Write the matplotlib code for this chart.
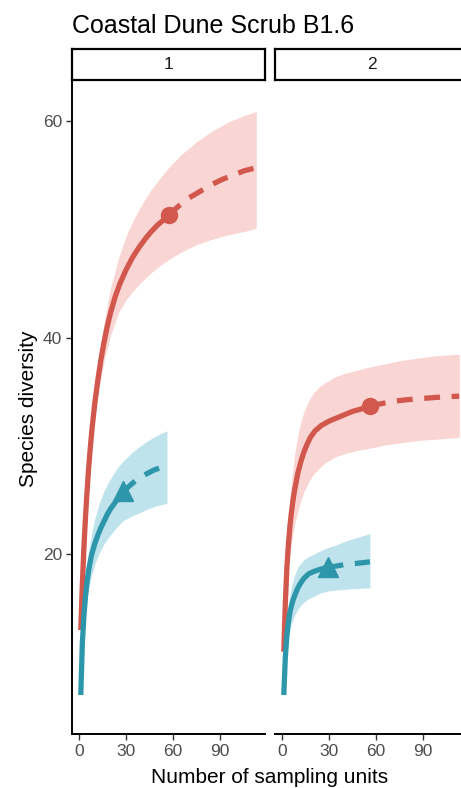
"""Sample-based rarefaction / extrapolation curves, Coastal Dune Scrub B1.6.

Two facets (sites 1 and 2); each shows observed species diversity against
number of sampling units (solid), extrapolation to twice the sample size
(dashed), the reference sample (marker) and a 95% confidence band.
"""
import matplotlib
matplotlib.use('Agg')
import matplotlib.pyplot as plt

# ---- site 1 --------------------------------------------------------------
s1_red_obs_x = [1, 2, 3, 4, 5, 6, 7, 8, 9, 10, 12, 14, 16, 18, 20, 23, 26,
                30, 34, 38, 42, 46, 50, 54, 57]
s1_red_obs_y = [13, 17.2, 20.6, 23.4, 25.8, 27.9, 29.7, 31.3, 32.7, 34, 36.2,
                38.1, 39.7, 41.1, 42.3, 43.8, 45, 46.3, 47.4, 48.3, 49.1,
                49.8, 50.4, 50.9, 51.3]
s1_red_ext_x = [57, 63, 70, 77, 84, 91, 98, 105, 113]
s1_red_ext_y = [51.3, 52.1, 52.9, 53.5, 54.1, 54.6, 55, 55.4, 55.7]
s1_red_ci_x = [1, 2, 4, 6, 8, 10, 13, 16, 20, 25, 30, 35, 40, 46, 52, 57,
               65, 75, 85, 95, 105, 113]
s1_red_hi = [13.3, 17.8, 24.3, 28.7, 32.3, 35.2, 38.7, 41.5, 44.6, 47.3,
             49.4, 51, 52.3, 53.7, 54.8, 55.7, 56.9, 58.1, 59.1, 59.9,
             60.5, 60.9]
s1_red_lo = [12.7, 16.6, 22.5, 27.1, 30.3, 32.8, 35.6, 37.9, 40.2, 42.3,
             43.5, 44.4, 45.2, 46, 46.7, 47.2, 47.9, 48.6, 49.1, 49.5,
             49.8, 50.1]

s1_teal_obs_x = [1, 2, 3, 4, 5, 6, 7, 8, 10, 12, 14, 16, 18, 20, 22, 24,
                 26, 28]
s1_teal_obs_y = [7, 11.8, 14.3, 16.1, 17.5, 18.5, 19.3, 20, 21, 21.8, 22.5,
                 23.1, 23.7, 24.2, 24.6, 25, 25.4, 25.8]
s1_teal_ext_x = [28, 32, 36, 40, 44, 48, 52, 56]
s1_teal_ext_y = [25.8, 26.3, 26.8, 27.2, 27.5, 27.8, 28, 28.2]
s1_teal_ci_x = [1, 2, 3, 4, 6, 8, 10, 13, 16, 20, 24, 28, 33, 38, 44, 50, 56]
s1_teal_hi = [7.3, 12.6, 15.4, 17.4, 20.2, 22, 23.3, 24.8, 25.9, 27, 27.9,
              28.6, 29.3, 29.9, 30.5, 31, 31.4]
s1_teal_lo = [6.7, 11, 13.2, 14.8, 16.8, 18.1, 19.1, 20.2, 21, 21.8, 22.5,
              23.1, 23.5, 23.8, 24.2, 24.5, 24.7]

# ---- site 2 --------------------------------------------------------------
s2_red_obs_x = [1, 2, 3, 4, 5, 6, 7, 8, 10, 12, 14, 16, 18, 21, 25, 30, 35,
                40, 45, 50, 56]
s2_red_obs_y = [11, 15.5, 18.8, 21, 22.7, 24, 25.1, 26, 27.5, 28.6, 29.5,
                30.2, 30.8, 31.4, 31.9, 32.3, 32.6, 32.9, 33.2, 33.4, 33.7]
s2_red_ext_x = [56, 63, 70, 78, 86, 95, 104, 113]
s2_red_ext_y = [33.7, 33.9, 34.1, 34.25, 34.35, 34.45, 34.55, 34.6]
s2_red_ci_x = [1, 2, 3, 4, 5, 6, 8, 10, 12, 14, 17, 20, 24, 28, 34, 40, 48,
               56, 66, 76, 86, 96, 105, 113]
s2_red_hi = [11.3, 16.7, 20.5, 23.2, 25.3, 26.9, 29.3, 31, 32.3, 33.2, 34.2,
             34.9, 35.5, 35.9, 36.4, 36.7, 37, 37.3, 37.6, 37.9, 38.1, 38.3,
             38.4, 38.5]
s2_red_lo = [10.7, 14.3, 17.1, 18.9, 20.2, 21.2, 22.8, 24, 25, 25.8, 26.7,
             27.4, 28, 28.5, 29, 29.3, 29.6, 29.8, 30.1, 30.3, 30.5, 30.6,
             30.7, 30.8]

s2_teal_obs_x = [1, 2, 3, 4, 5, 6, 7, 8, 10, 12, 14, 17, 20, 24, 29]
s2_teal_obs_y = [7, 10.5, 12.5, 13.8, 14.7, 15.3, 15.8, 16.2, 16.9, 17.4,
                 17.8, 18.2, 18.4, 18.6, 18.8]
s2_teal_ext_x = [29, 34, 40, 47, 56]
s2_teal_ext_y = [18.8, 18.9, 19.05, 19.15, 19.3]
s2_teal_ci_x = [1, 2, 3, 4, 5, 6, 8, 10, 12, 14, 17, 20, 24, 29, 35, 42, 49,
                56]
s2_teal_hi = [7.3, 11.5, 13.8, 15.3, 16.4, 17.1, 18.1, 18.8, 19.2, 19.5,
              19.8, 20, 20.3, 20.6, 20.9, 21.3, 21.6, 21.9]
s2_teal_lo = [6.7, 9.6, 11.3, 12.4, 13.1, 13.6, 14.4, 14.9, 15.3, 15.6, 15.9,
              16.1, 16.4, 16.6, 16.7, 16.8, 16.85, 16.9]

panel_labels = ['1', '2']
x_ticks = [0, 30, 60, 90]
y_ticks = [20, 40, 60]

RED, RED_FILL = '#D2574C', '#F9D6D3'
TEAL, TEAL_FILL = '#2E96AA', '#BEE3EC'

plt.rcParams.update({'font.family': ['Liberation Sans', 'DejaVu Sans']})

W, H = 461, 788
fig = plt.figure(figsize=(W / 100, H / 100), dpi=100)


def fx(px):
    return px / W


def fy(py):
    return 1 - py / H


panel_w = fx(193)
panel_lefts = [fx(72), fx(275)]
panel_bottom, panel_top = fy(734), fy(80)
strip_top = fy(49)


def draw_series(ax, obs_x, obs_y, ext_x, ext_y, ci_x, hi, lo, color, fill,
                marker, ms):
    ax.fill_between(ci_x, lo, hi, color=fill, lw=0, zorder=1)
    ax.plot(obs_x, obs_y, color=color, lw=3.8, solid_capstyle='butt',
            solid_joinstyle='round', zorder=3)
    ax.plot(ext_x, ext_y, color=color, lw=3.8, dashes=(3, 2.2),
            dash_capstyle='butt', zorder=3)
    ax.plot(obs_x[-1], obs_y[-1], marker=marker, ms=ms, color=color,
            mec=color, zorder=4)


sites = [
    [(s1_red_obs_x, s1_red_obs_y, s1_red_ext_x, s1_red_ext_y, s1_red_ci_x,
      s1_red_hi, s1_red_lo, RED, RED_FILL, 'o', 11.5),
     (s1_teal_obs_x, s1_teal_obs_y, s1_teal_ext_x, s1_teal_ext_y,
      s1_teal_ci_x, s1_teal_hi, s1_teal_lo, TEAL, TEAL_FILL, '^', 14)],
    [(s2_red_obs_x, s2_red_obs_y, s2_red_ext_x, s2_red_ext_y, s2_red_ci_x,
      s2_red_hi, s2_red_lo, RED, RED_FILL, 'o', 11.5),
     (s2_teal_obs_x, s2_teal_obs_y, s2_teal_ext_x, s2_teal_ext_y,
      s2_teal_ci_x, s2_teal_hi, s2_teal_lo, TEAL, TEAL_FILL, '^', 14)],
]

for i, left in enumerate(panel_lefts):
    ax = fig.add_axes([left, panel_bottom, panel_w, panel_top - panel_bottom])
    for s in sites[i]:
        draw_series(ax, *s)
    ax.set_xlim(-4.6, 118.6)
    ax.set_ylim(3.4, 63.8)
    ax.set_xticks(x_ticks)
    ax.set_yticks(y_ticks)
    for side in ('top', 'right'):
        ax.spines[side].set_visible(False)
    ax.spines['bottom'].set_linewidth(1.4)
    ax.spines['left'].set_linewidth(1.4)
    ax.tick_params(length=4, width=1.0, color='#333333', labelcolor='#4D4D4D',
                   labelsize=12.5, pad=3)
    if i > 0:
        ax.spines['left'].set_visible(False)
        ax.tick_params(axis='y', left=False, labelleft=False)

    # facet strip
    sax = fig.add_axes([left, panel_top, panel_w, strip_top - panel_top])
    sax.set_xticks([])
    sax.set_yticks([])
    for sp in sax.spines.values():
        sp.set_linewidth(1.6)
        sp.set_color('black')
    sax.text(0.5, 0.5, panel_labels[i], ha='center', va='center',
             fontsize=12.5, color='#1A1A1A', transform=sax.transAxes)

fig.text(fx(72), fy(33), 'Coastal Dune Scrub B1.6', ha='left',
         va='baseline', fontsize=18, color='black')
fig.text(fx(270), fy(783), 'Number of sampling units', ha='center',
         va='baseline', fontsize=15, color='black')
fig.text(fx(28), fy(409), 'Species diversity', ha='center', va='center',
         rotation=90, fontsize=15, color='black')

fig.savefig('out.png', dpi=100)
